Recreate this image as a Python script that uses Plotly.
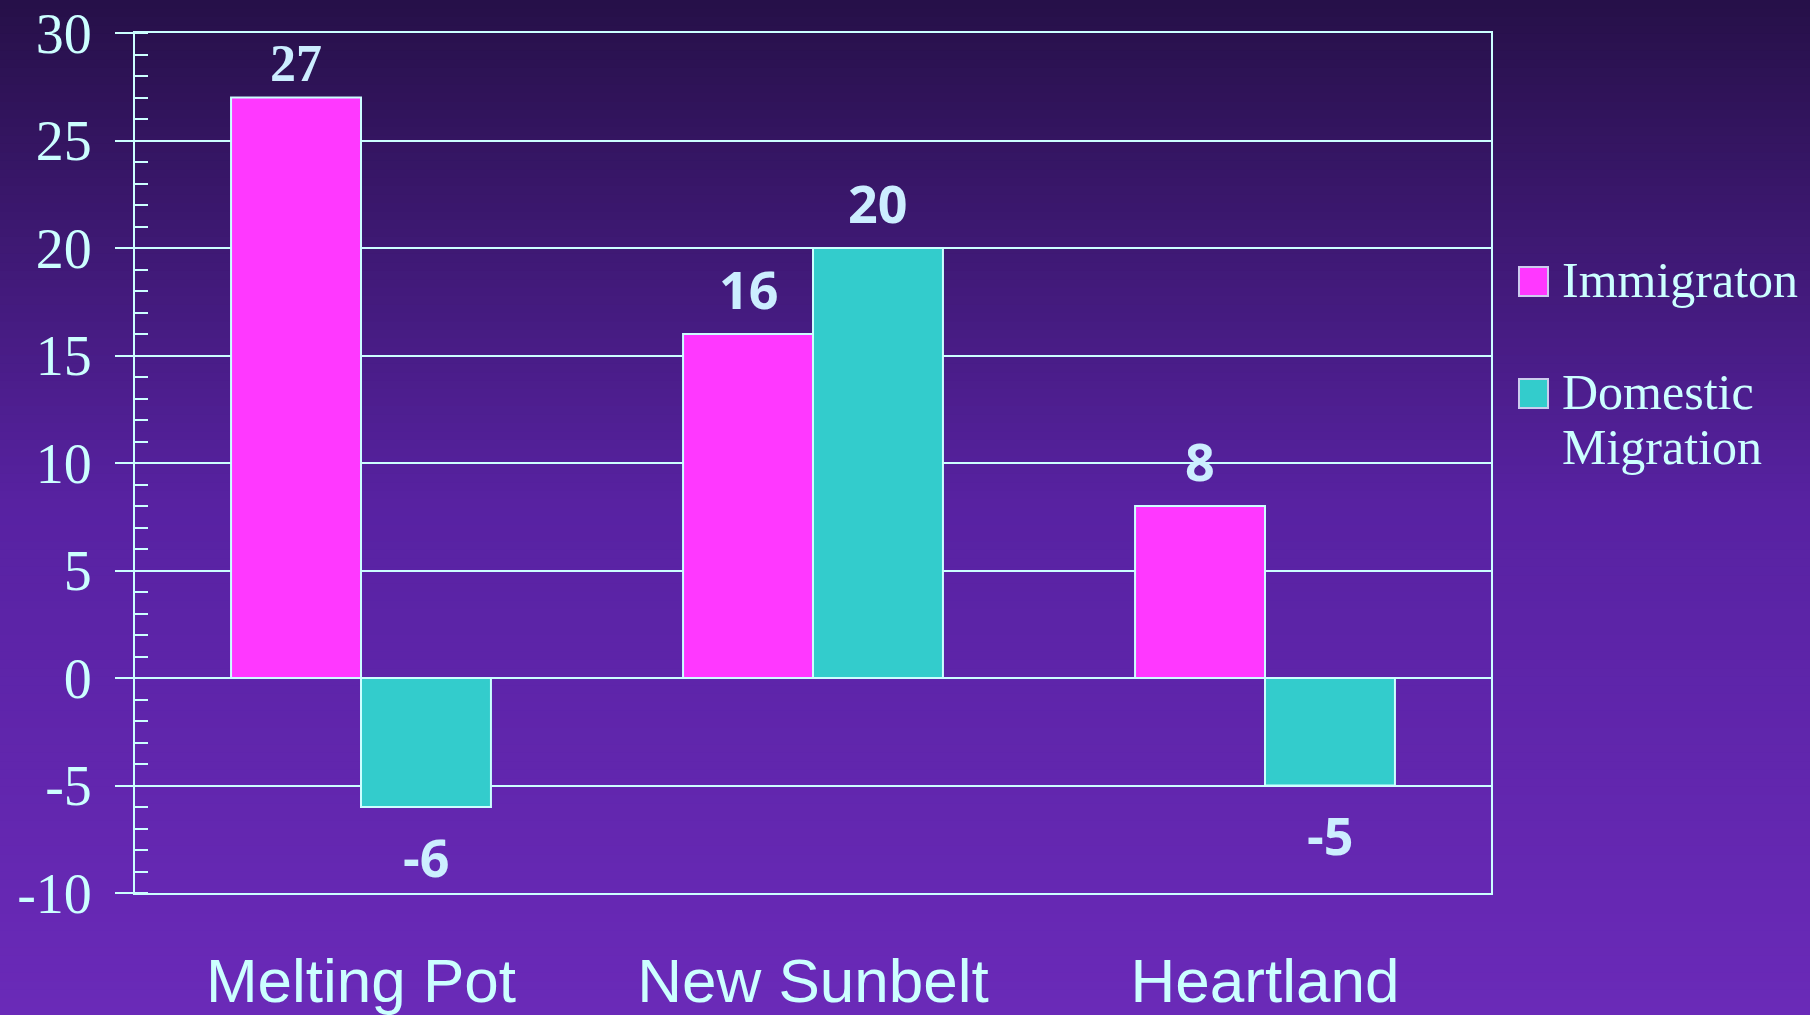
import plotly.graph_objects as go

# ------- Data -------
regions = ["Melting Pot", "New Sunbelt", "Heartland"]
immigration = [27, 16, 8]
domestic = [-6, 20, -5]
series_names = ["Immigraton", "Domestic Migration"]
y_tick_vals = [-10, -5, 0, 5, 10, 15, 20, 25, 30]
y_tick_text = ["-10", "-5", "0", "5", "10", "15", "20", "25", "30"]

# ------- Style -------
W, H = 1810, 1015
L, R, T, B = 135, 1491, 33, 893   # plot area in pixels
PINK = "#FF38FF"
TEAL = "#33CCCC"
LINE = "#CCFFFF"
LABEL = "#CCEEFF"


def fx(px):
    # pixel x -> paper x
    return (px - L) / (R - L)


def fy(py):
    # pixel y -> paper y
    return (B - py) / (B - T)


fig = go.Figure()

fig.add_trace(go.Bar(x=regions, y=immigration, name=series_names[0],
                     marker=dict(color=PINK, line=dict(color=LINE, width=2)),
                     showlegend=False))
fig.add_trace(go.Bar(x=regions, y=domestic, name=series_names[1],
                     marker=dict(color=TEAL, line=dict(color=LINE, width=2)),
                     showlegend=False))

# ------- Background gradient -------
stops = [(0.0, (38, 16, 72)), (0.5, (88, 34, 162)), (1.0, (106, 42, 184))]


def grad(t):
    for (t0, c0), (t1, c1) in zip(stops[:-1], stops[1:]):
        if t <= t1:
            f = (t - t0) / (t1 - t0)
            return "rgb(%d,%d,%d)" % tuple(round(a + (b - a) * f) for a, b in zip(c0, c1))
    return "rgb(%d,%d,%d)" % stops[-1][1]


shapes = []
n_bands = 120
for i in range(n_bands):
    y0 = H * i / n_bands
    y1 = H * (i + 1) / n_bands + 1
    shapes.append(dict(type="rect", xref="paper", yref="paper", layer="below",
                       x0=fx(-5), x1=fx(W + 5), y0=fy(y1), y1=fy(y0 - (2 if i == 0 else 0)),
                       fillcolor=grad((i + 0.5) / n_bands), line=dict(width=0)))

# ------- Custom legend -------
legend_rows = [(267, 296, PINK), (379, 408, TEAL)]
for top, bot, col in legend_rows:
    shapes.append(dict(type="rect", xref="paper", yref="paper",
                       x0=fx(1519), x1=fx(1548), y0=fy(bot), y1=fy(top),
                       fillcolor=col, line=dict(color="#CCCCEE", width=2)))

annotations = []
legend_lines = [("Immigraton", 280), ("Domestic", 392), ("Migration", 447)]
for txt, cy in legend_lines:
    annotations.append(dict(text=txt, xref="paper", yref="paper", x=fx(1560), y=fy(cy),
                            xanchor="left", yanchor="middle", showarrow=False,
                            font=dict(family="Liberation Serif", size=50, color=LINE)))

# ------- Value labels -------
half_bar = (R - L) / len(regions) * (1 - 0.425) / 4
for series, shift in [(immigration, -half_bar), (domestic, half_bar)]:
    for reg, v in zip(regions, series):
        serif = (v == 27)
        annotations.append(dict(
            text=str(v), x=reg, y=v, xshift=shift,
            yshift=(34 if serif else 46) if v > 0 else -49,
            xanchor="center", yanchor="middle", showarrow=False,
            font=dict(family="Liberation Serif" if serif else "Open Sans",
                      size=52, color=LABEL, weight="bold")))

fig.update_layout(
    width=W, height=H,
    margin=dict(l=L, r=W - R, t=T, b=H - B, autoexpand=False),
    paper_bgcolor="rgb(60,24,110)",
    plot_bgcolor="rgba(0,0,0,0)",
    barmode="group", bargap=0.425, bargroupgap=0,
    showlegend=False,
    shapes=shapes,
    annotations=annotations,
)

fig.update_xaxes(showgrid=False, ticks="", showline=True, mirror=True, automargin=False,
                 linecolor=LINE, linewidth=2, ticklabelstandoff=33,
                 tickfont=dict(family="Liberation Sans", size=62, color=LINE))

fig.update_yaxes(range=[-10, 30], tickmode="array", tickvals=y_tick_vals, ticktext=y_tick_text,
                 automargin=False,
                 showgrid=True, gridcolor=LINE, gridwidth=2, zeroline=False,
                 showline=True, mirror=True, linecolor=LINE, linewidth=2,
                 ticks="outside", ticklen=18, tickwidth=2, tickcolor=LINE,
                 ticklabelstandoff=12,
                 minor=dict(tickmode="linear", tick0=0, dtick=1, ticks="inside",
                            ticklen=13, tickwidth=2, tickcolor=LINE, showgrid=False),
                 tickfont=dict(family="Liberation Serif", size=56, color=LINE))

fig.write_html("out.html", config={"displayModeBar": False},
               post_script="document.body.style.margin='0';document.body.style.overflow='hidden';")
